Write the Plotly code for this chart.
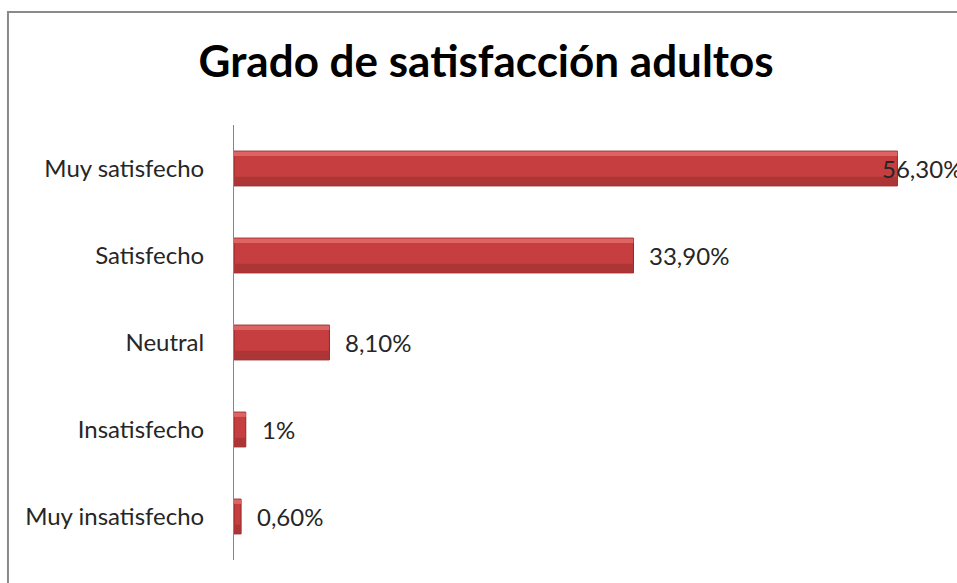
import plotly.graph_objects as go

categories = ["Muy satisfecho", "Satisfecho", "Neutral", "Insatisfecho", "Muy insatisfecho"]
values = [56.3, 33.9, 8.1, 1.0, 0.6]
value_labels = ["56,30%", "33,90%", "8,10%", "1%", "0,60%"]

FONT = "Lato"
TXT = "#262626"

fig = go.Figure()
# main bar body
fig.add_trace(go.Bar(
    x=values, y=categories, orientation="h", width=0.4,
    marker=dict(color="#C63E3F", line=dict(color="#8E2627", width=1)),
    hoverinfo="skip",
))
# light top edge and dark bottom edge, to fake Excel's bevel
fig.add_trace(go.Bar(
    x=values, y=categories, orientation="h", width=0.05, offset=-0.195,
    marker=dict(color="#DE6464", line=dict(width=0)), hoverinfo="skip",
))
fig.add_trace(go.Bar(
    x=values, y=categories, orientation="h", width=0.1, offset=0.095,
    marker=dict(color="#AD3536", line=dict(width=0)), hoverinfo="skip",
))

# data labels right of each bar; the first one is pushed back inside the chart like Excel does
for cat, v, lab in zip(categories, values, value_labels):
    shift = -17 if v > 50 else 14
    fig.add_annotation(x=v, y=cat, text=lab, showarrow=False, xanchor="left",
                       xshift=shift, font=dict(family=FONT, size=24, color=TXT))

# chart area border (cut off on the right and bottom in the reference)
fig.add_shape(type="rect", xref="paper", yref="paper", x0=-0.3197, x1=1.2, y0=-0.3, y1=1.2598,
              line=dict(color="#8a8a8a", width=2), layer="below")

fig.update_layout(
    width=957, height=583,
    margin=dict(l=234, r=16, t=125, b=23),
    paper_bgcolor="white", plot_bgcolor="white",
    showlegend=False, barmode="overlay",
    title=dict(text="<b>Grado de satisfacción adultos</b>", x=0.508, xanchor="center",
               y=0.894, yanchor="middle", font=dict(family=FONT, size=44, color="black")),
    xaxis=dict(range=[0, 60], visible=False),
    yaxis=dict(categoryorder="array", categoryarray=categories, autorange="reversed",
               showline=True, linecolor="#868686", linewidth=1, showgrid=False, ticks="",
               ticklabelstandoff=24, tickfont=dict(family=FONT, size=24, color=TXT)),
)

fig.write_html("out.html", config={"displayModeBar": False},
               post_script="document.body.style.margin='0';document.body.style.overflow='hidden';")
